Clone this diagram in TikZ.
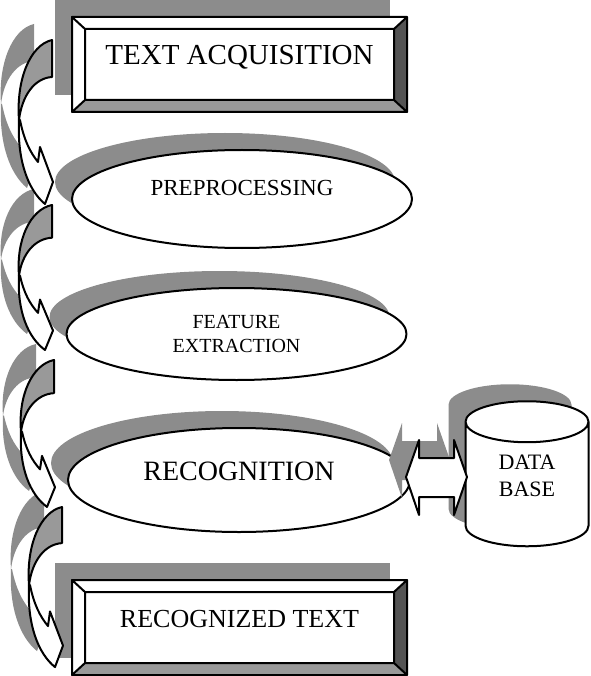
\documentclass[tikz,border=0pt]{standalone}
\usepackage{fontspec}
\setmainfont{Liberation Serif}
\usetikzlibrary{shapes.geometric,shadows}

\tikzset{
    dither/.style={fill=black!45, draw=none},
    lift/.style={drop shadow={shadow xshift=-17pt, shadow yshift=17pt, fill=black!45, opacity=1}},
    flat/.style={draw, line width=2pt, fill=white, outer sep=0},
    lightface/.style={fill=black!40},
    darkface/.style={fill=black!67},
    panel/.style={rectangle, flat, lift, minimum width=335pt, minimum height=95pt, text height=20pt, text depth=20pt},
    stage/.style={ellipse, flat, lift, inner sep=0},
    store/.style={cylinder, shape border rotate=90, aspect=0.72, flat, lift, minimum width=123pt, minimum height=145pt, inner sep=0, align=center}
    }

% frame round a panel node
\newcommand\bevel[1]{%
    \coordinate (#1-isw) at ([shift={(13,-12)}]#1.south west);
    \coordinate (#1-ise) at ([shift={(-13,-12)}]#1.south east);
    \coordinate (#1-ine) at ([shift={(-13,12)}]#1.north east);
    \coordinate (#1-inw) at ([shift={(13,12)}]#1.north west);
    \fill[lightface] (#1.south west) -- (#1.south east) -- (#1-ise) -- (#1-isw) -- cycle;
    \fill[darkface] (#1.south east) -- (#1.north east) -- (#1-ine) -- (#1-ise) -- cycle;
    \draw (#1.south west) rectangle (#1.north east) (#1-isw) rectangle (#1-ine)
        (#1.north west) -- (#1-inw) (#1.north east) -- (#1-ine)
        (#1.south east) -- (#1-ise) (#1.south west) -- (#1-isw);
}
\newcommand\bentback{(0,0) -- (0,37) .. controls (-17,38) and (-30,55) .. (-33,80) .. controls (-36,40) and (-22,5) .. (0,0) -- cycle}
\newcommand\bentfront{(-33,80) .. controls (-35,120) and (-24,150) .. (-7,164) -- (1,142) -- (-12,107) -- (-14,122) .. controls (-22,112) and (-28,100) .. (-32,80) -- cycle}
\newcommand\twinarrow{-- ++(13,-37) -- ++(0,18) -- ++(35,0) -- ++(0,-18) -- ++(13,37) -- ++(-13,38) -- ++(0,-18) -- ++(-35,0) -- ++(0,18) -- cycle}

\begin{document}
\begin{tikzpicture}[x=1pt, y=-1pt, line width=2pt, line join=round]
    \useasboundingbox (0,0) rectangle (590,676);

    % shadows of the bent arrows
    \foreach \x/\y/\s in {52/40/1, 52/205/0.884, 54/360/0.896, 62/507/0.976}
        \fill[dither, shift={(\x-18,\y-16)}, yscale=\s] \bentback \bentfront;

    % The stages
    \node[panel, font=\fontsize{29}{34}\selectfont] (acq) at (239.5,64.5) {TEXT ACQUISITION};
    \bevel{acq}
    \node[stage, minimum width=340pt, minimum height=98pt, text height=15pt, text depth=21pt,
        font=\fontsize{23}{27}\selectfont] (pre) at (242,199) {PREPROCESSING};
    \node[stage, minimum width=340pt, minimum height=92pt, align=center,
        font=\fontsize{20}{24}\selectfont] (feat) at (236.5,334) {FEATURE\\EXTRACTION};
    \node[stage, minimum width=342pt, minimum height=104pt, text height=19pt, text depth=19pt,
        font=\fontsize{28}{32}\selectfont] (rec) at (239,480) {RECOGNITION};
    \node[panel, font=\fontsize{26}{31}\selectfont] (out) at (239.5,627.5) {RECOGNIZED TEXT};
    \bevel{out}
    \node[store, text depth=18pt, font=\fontsize{22}{27}\selectfont] (db) at (527,484.5) {DATA\\BASE};

    % link to the data base
    \fill[dither] ([shift={(-21,-20)}]rec.east) \twinarrow;
    \draw[fill=white] ([shift={(-4,-3)}]rec.east) \twinarrow;

    % bent arrows
    \foreach \x/\y/\s in {52/40/1, 52/205/0.884, 54/360/0.896, 62/507/0.976}{
        \begin{scope}[shift={(\x,\y)}, yscale=\s]
            \draw[lightface] \bentback;
            \draw[fill=white] \bentfront;
        \end{scope}
    }
\end{tikzpicture}
\end{document}
